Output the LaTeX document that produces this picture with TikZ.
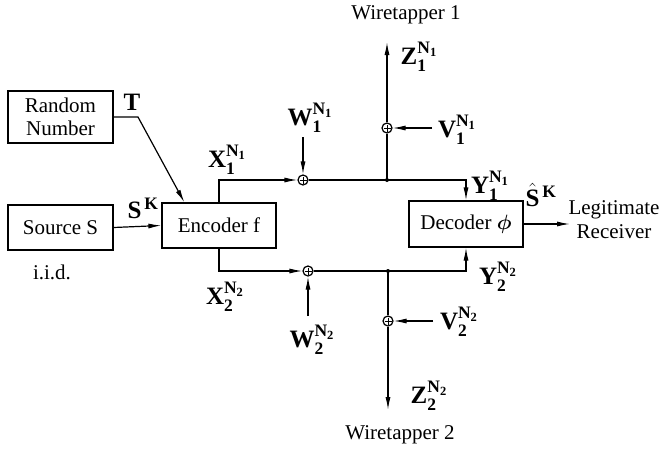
\documentclass[tikz,border=0pt]{standalone}
\usepackage{amsmath}
\usepackage{fontspec}
\setmainfont{Liberation Serif}
\setmathrm{Liberation Serif}
\usetikzlibrary{arrows.meta}
\tikzset{
  blk/.style={draw, inner sep=2pt, align=center, font=\fontsize{21}{23}\selectfont},
  adder/.style={circle, draw, inner sep=0pt, minimum size=10pt,
    path picture={\draw[line width=0.8pt]
      ([yshift=-1.5pt]path picture bounding box.north) -- ([yshift=1.5pt]path picture bounding box.south)
      ([xshift=1.5pt]path picture bounding box.west) -- ([xshift=-1.5pt]path picture bounding box.east);}},
  sig/.style={inner sep=1pt, font=\fontsize{25}{27}\selectfont},
  txt/.style={inner sep=1pt, align=center, font=\fontsize{21}{24}\selectfont},
}
\newcommand{\chsig}[2]{$\mathbf{#1}_{\mathbf{#2}}^{\mathbf{N}_{\mathbf{#2}}}$}
\begin{document}
\begin{tikzpicture}[x=1pt, y=-1pt, >={Latex[length=13pt,width=5pt]}, line width=1.2pt]
    \useasboundingbox (0,0) rectangle (670,453);
    % blocks
    \draw (60.5,117) node[blk, minimum width=105pt, minimum height=52pt, name=rnd]{Random\\Number};
    \draw (60.5,227.5) node[blk, minimum width=105pt, minimum height=45pt, name=src]{Source S};
    \draw (219,225.5) node[blk, minimum width=114pt, minimum height=45pt, name=enc]{Encoder f};
    \draw (466,224) node[blk, minimum width=114pt, minimum height=46pt, name=dec]{Decoder $\boldsymbol{\phi}$};
    % adders and junctions
    \draw (303,180) node[adder, name=a1]{};
    \draw (308,271) node[adder, name=a2]{};
    \draw (387,128) node[adder, name=b1]{};
    \draw (388,321) node[adder, name=b2]{};
    \coordinate (j1) at (387,180);
    \coordinate (j2) at (388,271);
    \fill (j1) circle (2pt) (j2) circle (2pt);
    % free ends
    \coordinate (tk) at (138,117);
    \coordinate (w1s) at (303,137);
    \coordinate (w2s) at (308,316);
    \coordinate (v1s) at (432,128);
    \coordinate (v2s) at (433,321);
    \coordinate (z1e) at (387,42);
    \coordinate (z2e) at (388,410);
    \coordinate (rxe) at (570,224);
    % connectors
    \draw[->] (rnd.east) -- (tk) -- ([xshift=23pt]enc.north west);
    \draw[->] (src.east) -- (enc.west);
    \draw[->] (enc.north) |- (a1);
    \draw[->] (enc.south) |- (a2);
    \draw[->] (w1s) -- (a1);
    \draw[->] (w2s) -- (a2);
    \draw[->] (a1) -| (dec.north);
    \draw[->] (a2) -| (dec.south);
    \draw (j1) -- (b1);
    \draw (j2) -- (b2);
    \draw[->] (b1) -- (z1e);
    \draw[->] (b2) -- (z2e);
    \draw[->] (v1s) -- (b1);
    \draw[->] (v2s) -- (b2);
    \draw[->] (dec.east) -- (rxe);
    % labels
    \draw (132,102) node[sig, name=lt]{$\mathbf{T}$};
    \draw (143,208) node[sig, name=lsk]{$\mathbf{S}^{\,\mathbf{K}}$};
    \draw (52,272) node[txt, name=liid]{i.i.d.};
    \draw (227,160) node[sig, name=lx1]{\chsig{X}{1}};
    \draw (225,297) node[sig, name=lx2]{\chsig{X}{2}};
    \draw (310,118) node[sig, name=lw1]{\chsig{W}{1}};
    \draw (312,340) node[sig, name=lw2]{\chsig{W}{2}};
    \draw (457,130) node[sig, name=lv1]{\chsig{V}{1}};
    \draw (459,322) node[sig, name=lv2]{\chsig{V}{2}};
    \draw (419,57) node[sig, name=lz1]{\chsig{Z}{1}};
    \draw (429,396) node[sig, name=lz2]{\chsig{Z}{2}};
    \draw (490,186) node[sig, name=ly1]{\chsig{Y}{1}};
    \draw (541,195) node[sig, name=lsh]{$\hat{\mathbf{S}}^{\,\mathbf{K}}$};
    \draw (614,220) node[txt, name=lrx]{Legitimate\\Receiver};
    \draw (498,277) node[sig, name=ly2]{\chsig{Y}{2}};
    \draw (406,15) node[txt, name=lwt1]{Wiretapper 1};
    \draw (400,435) node[txt, name=lwt2]{Wiretapper 2};
\end{tikzpicture}
\end{document}
